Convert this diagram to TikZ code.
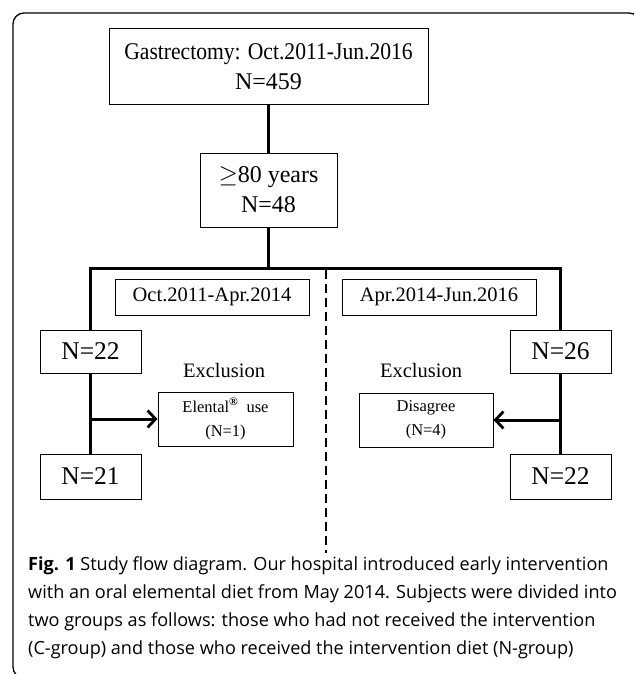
\documentclass[tikz,border=0pt]{standalone}
\usepackage{fontspec}
\setmainfont{Liberation Serif}
\newfontfamily\capfont{Open Sans}
\usetikzlibrary{arrows.meta}
\begin{document}
\begin{tikzpicture}[x=1pt,y=-1pt,
  box/.style={draw,line width=1pt,inner sep=0pt,align=center},
  conn/.style={line width=3pt},
  arr/.style={line width=3pt,-{Straight Barb[length=8pt,width=17pt,line width=2.8pt]}},
  big/.style={font=\fontsize{24}{30}\selectfont},
  nbig/.style={font=\fontsize{25.5}{30}\selectfont},
  mid/.style={font=\fontsize{20.5}{26}\selectfont},
  small/.style={font=\fontsize{16.5}{24}\selectfont}]
\useasboundingbox (0,0) rectangle (633,674);
\draw[line width=1.3pt,rounded corners=11pt] (13,13) rectangle (640,678);
% nodes
\node[box,big,minimum width=319pt,minimum height=76pt] (top) at (268.5,67) {\scalebox{0.9}[1]{Gastrectomy: Oct.2011-Jun.2016}\\N=459};
\node[box,big,minimum width=137pt,minimum height=74pt] (age) at (268.5,190) {$\geq$80 years\\N=48};
\node[box,mid,minimum width=194pt,minimum height=36pt] (per1) at (212,297) {Oct.2011-Apr.2014};
\node[box,mid,minimum width=194pt,minimum height=36pt] (per2) at (439,297) {Apr.2014-Jun.2016};
\node[box,nbig,minimum width=101pt,minimum height=43pt] (L1) at (90.5,351.5) {N=22};
\node[box,nbig,minimum width=101pt,minimum height=45pt] (L2) at (90.5,476.5) {N=21};
\node[box,nbig,minimum width=101pt,minimum height=43pt] (R1) at (560.5,351.5) {N=26};
\node[box,nbig,minimum width=101pt,minimum height=45pt] (R2) at (560.5,476.5) {N=22};
\node[mid] (exL) at (224,370) {Exclusion};
\node[mid] (exR) at (421,370) {Exclusion};
\node[box,small,minimum width=135pt,minimum height=54pt] (el) at (225.5,419) {Elental\textsuperscript{\textbf{®}}\ \ use\\(N=1)};
\node[box,small,minimum width=134pt,minimum height=54pt] (dis) at (426,420) {Disagree\\(N=4)};
% connectors
\coordinate (sl) at (90.5,268);
\coordinate (sr) at (560.5,268);
\coordinate (dtop) at (326,270);
\coordinate (dbot) at (326,553);
\draw[conn] (top.south) -- (age.north);
\draw[conn] (age.south) -- (age.south |- sl);
\draw[conn] (L1.north) -- (sl) -- (sr) -- (R1.north);
\draw[conn] (L1.south) -- (L2.north);
\draw[conn] (R1.south) -- (R2.north);
\draw[arr] (L1.south |- el.west) -- (el.west);
\draw[arr] (R1.south |- dis.east) -- (dis.east);
\draw[line width=2pt,dash pattern=on 9pt off 5pt] (dtop) -- (dbot);
% caption
\node[anchor=north west,inner sep=0pt,align=left,font=\capfont\fontsize{18.1}{28}\selectfont] (cap) at (28,556)
{\textbf{Fig. 1} Study flow diagram. Our hospital introduced early intervention\\
with an oral elemental diet from May 2014. Subjects were divided into\\
two groups as follows: those who had not received the intervention\\
(C-group) and those who received the intervention diet (N-group)};
\end{tikzpicture}
\end{document}
